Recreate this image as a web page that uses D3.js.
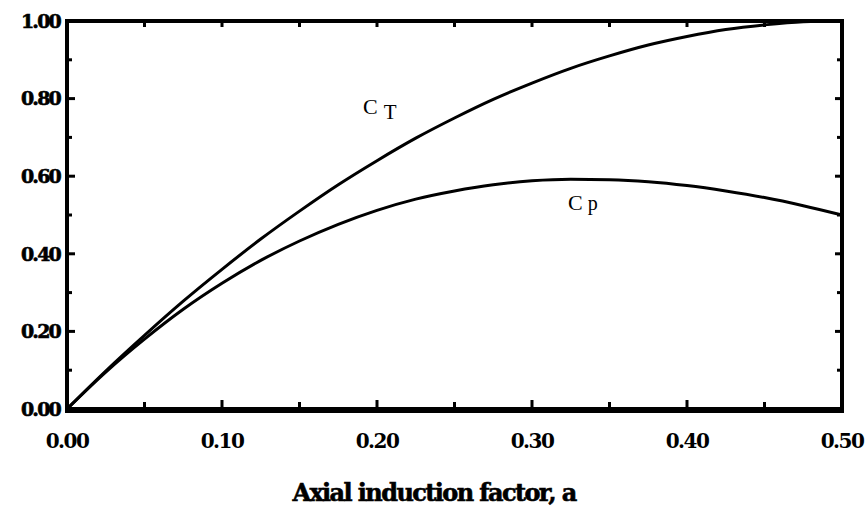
<!DOCTYPE html>
<html>
<head>
<meta charset="utf-8">
<script src="https://cdn.jsdelivr.net/npm/d3@7"></script>
<style>
  body { margin: 0; background: #fff; }
  text { fill: #000; }
</style>
</head>
<body>
<div id="chart"></div>
<script>
// Values
const aValues = [0, 0.025, 0.05, 0.075, 0.1, 0.125, 0.15, 0.175, 0.2, 0.225, 0.25,
                 0.275, 0.3, 0.325, 0.35, 0.375, 0.4, 0.425, 0.45, 0.475, 0.5];
const ctValues = [0, 0.098, 0.19, 0.278, 0.36, 0.438, 0.51, 0.578, 0.64, 0.698, 0.75,
                  0.798, 0.84, 0.878, 0.91, 0.938, 0.96, 0.978, 0.99, 0.998, 1.0];
const cpValues = [0, 0.095, 0.18, 0.257, 0.324, 0.383, 0.433, 0.476, 0.512, 0.541, 0.562,
                  0.578, 0.588, 0.592, 0.591, 0.586, 0.576, 0.562, 0.545, 0.524, 0.5];
const xTicks = [0, 0.1, 0.2, 0.3, 0.4, 0.5];
const yTicks = [0, 0.2, 0.4, 0.6, 0.8, 1.0];

const svgWidth = 868;
const svgHeight = 507;
const margin = { top: 21, right: 26, bottom: 98, left: 67 };
const width = svgWidth - margin.left - margin.right;
const height = svgHeight - margin.top - margin.bottom;

const svg = d3.select('#chart')
    .append('svg')
    .attr('width', svgWidth)
    .attr('height', svgHeight)
    .append('g')
    .attr('transform', `translate(${margin.left},${margin.top})`);

const xScale = d3.scaleLinear().domain([0, 0.5]).range([0, width]);
const yScale = d3.scaleLinear().domain([0, 1]).range([height, 0]);

const fontFamily = '"DejaVu Serif", "Liberation Serif", serif';

// inward ticks on all four sides
const minorX = d3.range(0, 0.5001, 0.05);
const minorY = d3.range(0, 1.0001, 0.1);

svg.selectAll('.tick-bottom')
    .data(minorX)
    .enter().append('line')
    .attr('x1', d => xScale(d)).attr('x2', d => xScale(d))
    .attr('y1', height).attr('y2', (d, i) => height - (i % 2 ? 7 : 9))
    .attr('stroke', '#000').attr('stroke-width', 3);

svg.selectAll('.tick-top')
    .data(minorX)
    .enter().append('line')
    .attr('x1', d => xScale(d)).attr('x2', d => xScale(d))
    .attr('y1', 0).attr('y2', 6)
    .attr('stroke', '#000').attr('stroke-width', 3);

svg.selectAll('.tick-left')
    .data(minorY)
    .enter().append('line')
    .attr('x1', 0).attr('x2', (d, i) => i % 2 ? 5 : 8)
    .attr('y1', d => yScale(d)).attr('y2', d => yScale(d))
    .attr('stroke', '#000').attr('stroke-width', 3);

svg.selectAll('.tick-right')
    .data(minorY)
    .enter().append('line')
    .attr('x1', width).attr('x2', (d, i) => width - (i % 2 ? 5 : 7))
    .attr('y1', d => yScale(d)).attr('y2', d => yScale(d))
    .attr('stroke', '#000').attr('stroke-width', 3);

// curves
const line = d3.line()
    .x((d, i) => xScale(aValues[i]))
    .y(d => yScale(d))
    .curve(d3.curveMonotoneX);

svg.append('path')
    .datum(ctValues)
    .attr('d', line)
    .attr('fill', 'none')
    .attr('stroke', '#000')
    .attr('stroke-width', 3);

svg.append('path')
    .datum(cpValues)
    .attr('d', line)
    .attr('fill', 'none')
    .attr('stroke', '#000')
    .attr('stroke-width', 3);

// frame
svg.append('path')
    .attr('d', `M0,0H${width}V${height}H0Z`)
    .attr('fill', 'none')
    .attr('stroke', '#000')
    .attr('stroke-width', 4);
svg.append('line')
    .attr('x1', -2).attr('x2', width + 2)
    .attr('y1', height + 1).attr('y2', height + 1)
    .attr('stroke', '#000').attr('stroke-width', 6);

// tick labels
svg.selectAll('.y-label')
    .data(yTicks)
    .enter().append('text')
    .attr('x', -7)
    .attr('y', d => yScale(d))
    .attr('dy', '0.36em')
    .attr('text-anchor', 'end')
    .style('font-family', fontFamily)
    .style('font-weight', 'bold')
    .style('font-size', '19px')
    .style('letter-spacing', '-1.8px')
    .style('stroke', '#000')
    .style('stroke-width', 0.6)
    .text(d => d.toFixed(2));

svg.selectAll('.x-label')
    .data(xTicks)
    .enter().append('text')
    .attr('x', d => xScale(d))
    .attr('y', height + 39)
    .attr('text-anchor', 'middle')
    .style('font-family', fontFamily)
    .style('font-weight', 'bold')
    .style('font-size', '20px')
    .style('letter-spacing', '-1.5px')
    .text(d => d.toFixed(2));

// axis title
svg.append('text')
    .attr('x', 434 - margin.left)
    .attr('y', height + 92)
    .attr('text-anchor', 'middle')
    .style('font-family', fontFamily)
    .style('font-weight', 'bold')
    .style('font-size', '24px')
    .style('letter-spacing', '-1.6px')
    .style('stroke', '#000')
    .style('stroke-width', 0.6)
    .text('Axial induction factor, a');

// curve labels
const ctLabel = svg.append('text')
    .attr('x', 296)
    .attr('y', 93)
    .style('font-family', '"Liberation Serif", serif')
    .style('font-size', '22px');
ctLabel.append('tspan').text('C');
ctLabel.append('tspan').attr('dx', 6).attr('dy', 5).style('font-size', '21px').text('T');

const cpLabel = svg.append('text')
    .attr('x', 501)
    .attr('y', 189)
    .style('font-family', '"Liberation Serif", serif')
    .style('font-size', '22px');
cpLabel.append('tspan').text('C');
cpLabel.append('tspan').attr('dx', 5).attr('dy', 0).style('font-size', '20px').text('p');
</script>
</body>
</html>
